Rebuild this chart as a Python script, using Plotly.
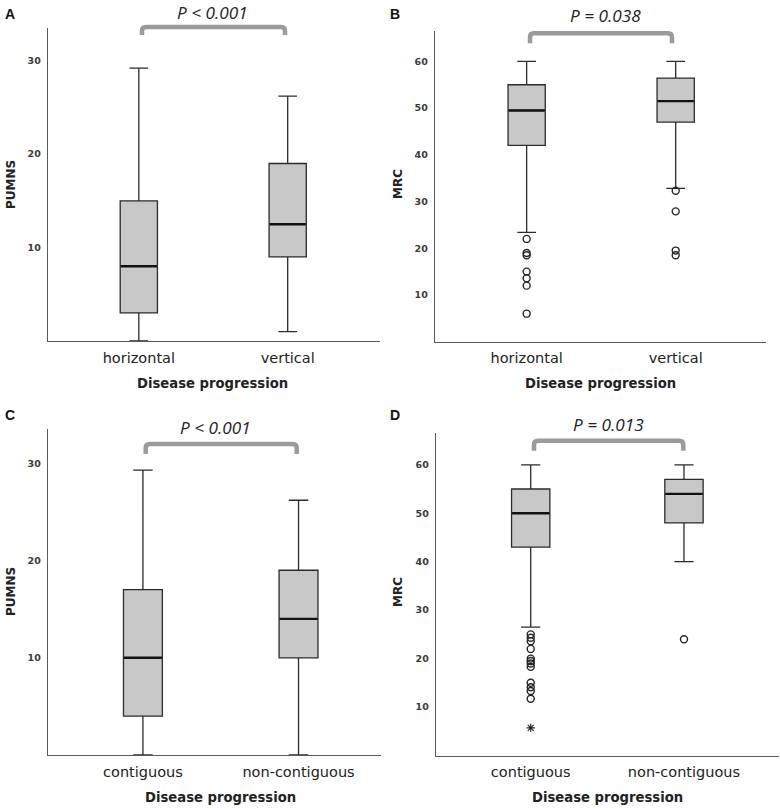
import plotly.graph_objects as go

# ---------------- data ----------------
cats_AB = ["horizontal", "vertical"]
cats_CD = ["contiguous", "non-contiguous"]

# Panel A: PUMNS by disease progression (horizontal / vertical)
A_low = [0.0, 1.0]
A_q1 = [3.0, 9.0]
A_med = [8.0, 12.5]
A_q3 = [15.0, 19.0]
A_up = [29.2, 26.2]

# Panel B: MRC by disease progression (horizontal / vertical)
B_low = [23.4, 32.8]
B_q1 = [42.0, 47.0]
B_med = [49.5, 51.5]
B_q3 = [55.0, 56.4]
B_up = [60.0, 60.0]
B_out_h = [22.0, 19.0, 18.5, 15.0, 13.6, 12.0, 6.0]
B_out_v = [32.3, 27.9, 19.5, 18.5]

# Panel C: PUMNS by disease progression (contiguous / non-contiguous)
C_low = [0.0, 0.0]
C_q1 = [4.0, 10.0]
C_med = [10.0, 14.0]
C_q3 = [17.0, 19.0]
C_up = [29.3, 26.2]

# Panel D: MRC by disease progression (contiguous / non-contiguous)
D_low = [26.5, 40.0]
D_q1 = [43.0, 48.0]
D_med = [50.0, 54.0]
D_q3 = [55.0, 57.0]
D_up = [60.0, 60.0]
D_out_c = [25.0, 24.3, 23.6, 22.0, 20.0, 19.5, 19.0, 18.3, 15.0, 14.1, 13.3, 11.7]
D_ext_c = [5.7]
D_out_n = [24.0]

p_texts = ["P < 0.001", "P = 0.038", "P < 0.001", "P = 0.013"]
y_titles = ["PUMNS", "MRC", "PUMNS", "MRC"]
x_title = "Disease progression"
letters = ["A", "B", "C", "D"]

# ---------------- style ----------------
W, H = 780, 809
BOX_FILL = "#c8c8c8"
BOX_LINE = "#2b2b2b"
AXIS_LINE = "#5a5a5a"
BRACKET = "#9b9b9b"
TXT = "#222222"
BOXW = 0.25


def px(x):
    return x / W


def py(y):
    return 1 - y / H


fig = go.Figure()


def add_panel(idx, cats, low, q1, med, q3, up, outliers=None, extremes=None):
    xa = "x" if idx == 1 else f"x{idx}"
    ya = "y" if idx == 1 else f"y{idx}"
    pos = list(range(len(cats)))
    for i in pos:
        fig.add_trace(go.Box(
            x=[i], q1=[q1[i]], median=[med[i]], q3=[q3[i]],
            lowerfence=[low[i]], upperfence=[up[i]],
            width=BOXW, whiskerwidth=0.5, boxpoints=False,
            fillcolor=BOX_FILL, line=dict(color=BOX_LINE, width=1.3),
            xaxis=xa, yaxis=ya, showlegend=False, hoverinfo="skip"))
        fig.add_trace(go.Scatter(
            x=[i - BOXW / 2 + 0.004, i + BOXW / 2 - 0.004], y=[med[i], med[i]],
            mode="lines", line=dict(color="#111111", width=2.4),
            xaxis=xa, yaxis=ya, showlegend=False, hoverinfo="skip"))
    if outliers:
        for i, vals in outliers.items():
            fig.add_trace(go.Scatter(
                x=[i] * len(vals), y=vals, mode="markers",
                marker=dict(symbol="circle-open", size=7, color="#262626",
                            line=dict(width=1.4, color="#262626")),
                xaxis=xa, yaxis=ya, showlegend=False, hoverinfo="skip",
                cliponaxis=False))
    if extremes:
        for i, vals in extremes.items():
            fig.add_trace(go.Scatter(
                x=[i] * len(vals), y=vals, mode="markers",
                marker=dict(symbol="asterisk-open", size=7, color="#262626",
                            line=dict(width=1.1, color="#262626")),
                xaxis=xa, yaxis=ya, showlegend=False, hoverinfo="skip",
                cliponaxis=False))


add_panel(1, cats_AB, A_low, A_q1, A_med, A_q3, A_up)
add_panel(2, cats_AB, B_low, B_q1, B_med, B_q3, B_up,
          outliers={0: B_out_h, 1: B_out_v})
add_panel(3, cats_CD, C_low, C_q1, C_med, C_q3, C_up)
add_panel(4, cats_CD, D_low, D_q1, D_med, D_q3, D_up,
          outliers={0: D_out_c, 1: D_out_n}, extremes={0: D_ext_c})

# axis geometry (page pixels): x0, x1, ytop, ybottom
geom = {
    1: (48, 380, 28, 341),
    2: (435, 766, 31, 341.7),
    3: (48, 381, 429.3, 755),
    4: (436, 779, 433.3, 755.5),
}
xranges = {1: [-0.61, 1.62], 2: [-0.615, 1.606], 3: [-0.61, 1.53], 4: [-0.618, 1.62]}
yranges = {1: [0, 33.5], 2: [0, 66.5], 3: [0, 33.5], 4: [0, 66.5]}
yticks = {1: [10, 20, 30], 2: [10, 20, 30, 40, 50, 60],
          3: [10, 20, 30], 4: [10, 20, 30, 40, 50, 60]}
cats_by = {1: cats_AB, 2: cats_AB, 3: cats_CD, 4: cats_CD}

layout = {}
for i in range(1, 5):
    x0, x1, yt, yb = geom[i]
    xk = "xaxis" if i == 1 else f"xaxis{i}"
    yk = "yaxis" if i == 1 else f"yaxis{i}"
    yanchor = "y" if i == 1 else f"y{i}"
    xanchor = "x" if i == 1 else f"x{i}"
    layout[xk] = dict(
        domain=[px(x0), px(x1)], anchor=yanchor, range=xranges[i],
        tickvals=list(range(len(cats_by[i]))), ticktext=cats_by[i],
        showline=True, linecolor=AXIS_LINE, linewidth=1.3, mirror=False,
        showgrid=False, zeroline=False, ticks="", ticklabelstandoff=3,
        tickfont=dict(family="DejaVu Sans", size=14.5, color=TXT), fixedrange=True)
    layout[yk] = dict(
        domain=[py(yb), py(yt)], anchor=xanchor, range=yranges[i],
        tickvals=yticks[i], showline=True, linecolor=AXIS_LINE, linewidth=1.3,
        showgrid=False, zeroline=False, ticks="", ticklabelstandoff=4,
        tickfont=dict(family="DejaVu Sans", size=9.5, color="#3a3a3a", weight="bold"),
        fixedrange=True)

# annotations
ann = []
letter_pos = [(10, 14), (395, 14), (10, 415), (395, 415)]
for L, (lx, ly) in zip(letters, letter_pos):
    ann.append(dict(x=px(lx), y=py(ly), xref="paper", yref="paper", text=f"<b>{L}</b>",
                    showarrow=False, xanchor="center", yanchor="middle",
                    font=dict(family="Liberation Sans", size=14, color="#111111")))
p_pos = [(213, 12), (605, 16), (215, 427), (608, 424)]
for t, (tx, ty) in zip(p_texts, p_pos):
    ann.append(dict(x=px(tx), y=py(ty), xref="paper", yref="paper", text=f"<i>{t}</i>",
                    showarrow=False, xanchor="center", yanchor="middle", borderpad=0,
                    font=dict(family="Open Sans", size=17.2, color=TXT)))
yt_pos = [(11, 185), (398, 184), (11, 592), (398, 592)]
for t, (tx, ty) in zip(y_titles, yt_pos):
    ann.append(dict(x=px(tx), y=py(ty), xref="paper", yref="paper", text=f"<b>{t}</b>",
                    showarrow=False, xanchor="center", yanchor="middle", textangle=-90,
                    font=dict(family="DejaVu Sans", size=12, color=TXT)))
xt_pos = [(213, 383), (600, 383), (220, 797), (607, 797)]
for tx, ty in xt_pos:
    ann.append(dict(x=px(tx), y=py(ty), xref="paper", yref="paper", text=f"<b>{x_title}</b>",
                    showarrow=False, xanchor="center", yanchor="middle",
                    font=dict(family="DejaVu Sans", size=13.2, color=TXT)))

# significance brackets (paper coords)
brackets = [(142, 285, 27, 35), (530, 672, 33.3, 43.3),
            (145.7, 296.7, 444, 454), (534, 683.3, 440.7, 450.7)]
shapes = []
r = 4
for bx0, bx1, byt, byb in brackets:
    path = (f"M {px(bx0)},{py(byb)} L {px(bx0)},{py(byt + r)} "
            f"Q {px(bx0)},{py(byt)} {px(bx0 + r)},{py(byt)} "
            f"L {px(bx1 - r)},{py(byt)} Q {px(bx1)},{py(byt)} {px(bx1)},{py(byt + r)} "
            f"L {px(bx1)},{py(byb)}")
    shapes.append(dict(type="path", path=path, xref="paper", yref="paper",
                       line=dict(color=BRACKET, width=4.5)))

fig.update_layout(
    width=W, height=H, margin=dict(l=0, r=0, t=0, b=0),
    paper_bgcolor="white", plot_bgcolor="white",
    showlegend=False, annotations=ann, shapes=shapes, **layout)

fig.write_html("out.html", config={"displayModeBar": False, "staticPlot": True},
               post_script="document.body.style.margin='0';document.body.style.overflow='hidden';")
